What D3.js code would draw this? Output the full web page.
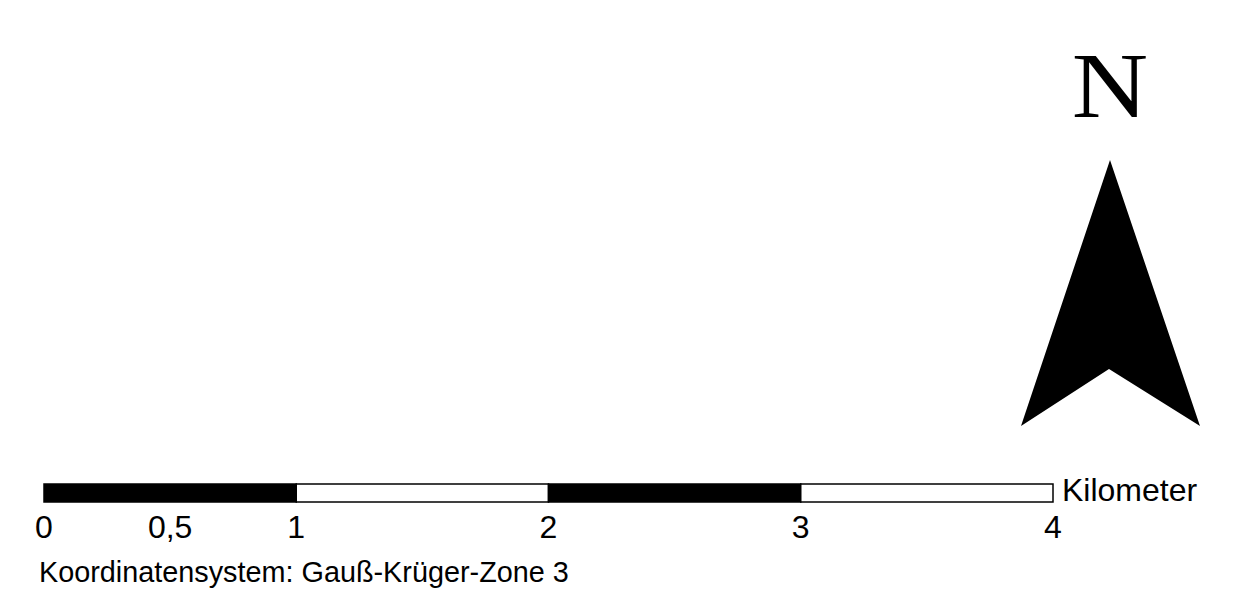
<!DOCTYPE html>
<html><head><meta charset="utf-8">
<script src="https://cdn.jsdelivr.net/npm/d3@7"></script>
<style>html,body{margin:0;padding:0;background:#fff;}</style>
</head><body>
<script>
const segmentStarts = [0, 1, 2, 3];
const segmentEnds = [1, 2, 3, 4];
const segmentFills = ["#000", "#fff", "#000", "#fff"];
const tickValues = [0, 0.5, 1, 2, 3, 4];
const tickLabels = ["0", "0,5", "1", "2", "3", "4"];
const unitLabel = "Kilometer";
const footnote = "Koordinatensystem: Gauß-Krüger-Zone 3";
const northLabel = "N";

const W = 1259, H = 604;
const svg = d3.select("body").append("svg").attr("width", W).attr("height", H);
const x = d3.scaleLinear().domain([0, 4]).range([44, 1053]);

const barTop = 484, barH = 18;
const segs = segmentStarts.map((s, i) => ({s, e: segmentEnds[i], f: segmentFills[i]}));
svg.append("g").selectAll("rect").data(segs).join("rect")
  .attr("x", d => x(d.s)).attr("y", barTop)
  .attr("width", d => x(d.e) - x(d.s)).attr("height", barH)
  .attr("fill", d => d.f).attr("stroke", "#000").attr("stroke-width", 1.5);

svg.append("g").selectAll("text").data(tickValues).join("text")
  .attr("x", d => x(d)).attr("y", 538)
  .attr("text-anchor", "middle")
  .attr("font-family", "Liberation Sans, Arial, sans-serif")
  .attr("font-size", 32)
  .text((d, i) => tickLabels[i]);

svg.append("text").attr("x", x(4) + 9).attr("y", 501)
  .attr("font-family", "Liberation Sans, Arial, sans-serif")
  .attr("font-size", 32).text(unitLabel);

svg.append("text").attr("x", 39).attr("y", 582)
  .attr("font-family", "Liberation Sans, Arial, sans-serif")
  .attr("font-size", 28.8).text(footnote);

// North arrow
const arrow = [[1110, 160], [1200, 426], [1109, 369], [1021, 426]];
svg.append("path").attr("d", d3.line()(arrow) + "Z").attr("fill", "#000");
svg.append("text").attr("x", 0).attr("y", 0).attr("text-anchor", "middle")
  .attr("transform", "translate(1110,117) scale(1.08,0.96)")
  .attr("font-family", "Liberation Serif, Times New Roman, serif")
  .attr("font-size", 98).text(northLabel);
</script>
</body></html>
